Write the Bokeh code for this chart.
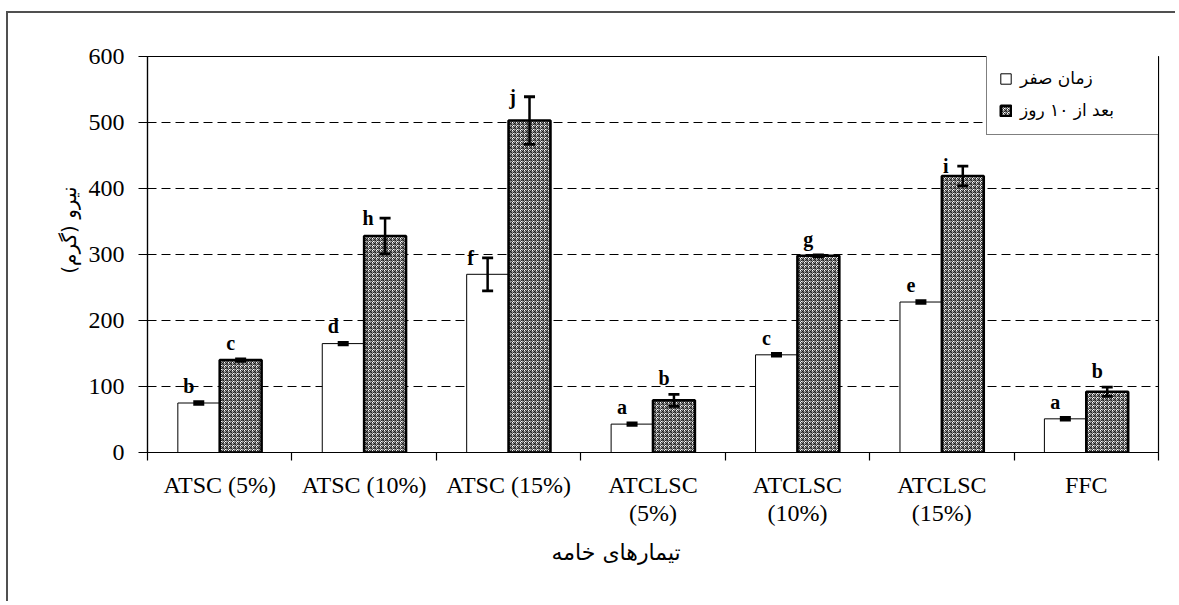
from bokeh.plotting import figure
from bokeh.models import (ColumnDataSource, FixedTicker, Whisker, TeeHead, LabelSet, Title,
                          Legend, LegendItem, Range1d)
from bokeh.embed import file_html
from bokeh.resources import INLINE

# ---------------- data ----------------
categories = ["ATSC (5%)", "ATSC (10%)", "ATSC (15%)", "ATCLSC\n(5%)", "ATCLSC\n(10%)",
              "ATCLSC\n(15%)", "FFC"]
day0 = [75, 165, 270, 43, 148, 228, 51]
day0_err = [2, 2, 25, 2, 2, 2, 2]
day0_letters = ["b", "d", "f", "a", "c", "e", "a"]
day10 = [140, 328, 503, 79, 298, 419, 92]
day10_err = [2, 27, 36, 9, 1.5, 15, 7]
day10_letters = ["c", "h", "j", "b", "g", "i", "b"]
series_names = ["زمان صفر", "بعد از ۱۰ روز"]
y_ticks = [0, 100, 200, 300, 400, 500, 600]
y_title = "نیرو (گرم)"
x_title = "تیمارهای خامه"

# ---------------- layout ----------------
n = len(categories)
bw = 0.29
SERIF = "Liberation Serif"
ARABIC = "DejaVu Sans"

p = figure(width=1169, height=590, x_range=Range1d(0, n), y_range=Range1d(0, 600),
           output_backend="svg", toolbar_location=None,
           min_border_left=139, min_border_right=19, min_border_top=43, min_border_bottom=151)
p.styles = {"border-top": "2px solid #505050", "border-left": "2px solid #505050",
            "margin-top": "11px", "margin-left": "6px"}
p.background_fill_color = "white"
p.border_fill_color = "white"
p.outline_line_color = "black"
p.outline_line_width = 1.2

centers = [i + 0.5 for i in range(n)]
x0 = [c - bw / 2 for c in centers]
x1 = [c + bw / 2 for c in centers]


def letter_offsets(errs):
    xo = [-17 if e >= 10 else -10 for e in errs]
    yo = [0 if e >= 10 else 16 for e in errs]
    return xo, yo


xo0, yo0 = letter_offsets(day0_err)
xo1, yo1 = letter_offsets(day10_err)
src0 = ColumnDataSource(dict(x=x0, top=day0, upper=[v + e for v, e in zip(day0, day0_err)],
                             lower=[v - e for v, e in zip(day0, day0_err)], text=day0_letters,
                             xo=xo0, yo=yo0))
src1 = ColumnDataSource(dict(x=x1, top=day10, upper=[v + e for v, e in zip(day10, day10_err)],
                             lower=[v - e for v, e in zip(day10, day10_err)], text=day10_letters,
                             xo=xo1, yo=yo1))

r0 = p.vbar(x="x", top="top", width=bw, source=src0, fill_color="white",
            line_color="black", line_width=1)
r1 = p.vbar(x="x", top="top", width=bw, source=src1, fill_color="white",
            line_color="black", line_width=2.6, hatch_pattern="criss_cross",
            hatch_color="#1a1a1a", hatch_scale=4, hatch_weight=0.9)

for src in (src0, src1):
    w = Whisker(source=src, base="x", upper="upper", lower="lower", line_width=2.5,
                line_color="black", level="annotation",
                upper_head=TeeHead(size=11, line_width=2.8, line_color="black"),
                lower_head=TeeHead(size=11, line_width=2.8, line_color="black"))
    p.add_layout(w)
    ls = LabelSet(source=src, x="x", y="upper", text="text", x_offset="xo", y_offset="yo",
                  text_align="center", text_baseline="middle", text_font=SERIF,
                  text_font_style="bold", text_font_size="20px", text_color="black",
                  level="annotation")
    p.add_layout(ls)

# grid
p.xgrid.visible = False
p.ygrid.ticker = FixedTicker(ticks=y_ticks[1:-1])
p.ygrid.grid_line_color = "black"
p.ygrid.grid_line_dash = "9 5"
p.ygrid.grid_line_width = 1.2

# y axis
p.yaxis.ticker = FixedTicker(ticks=y_ticks)
p.yaxis.major_tick_out = 9
p.yaxis.major_tick_in = 0
p.yaxis.minor_tick_out = 0
p.yaxis.minor_tick_in = 0
p.yaxis.axis_line_color = "black"
p.yaxis.axis_line_width = 1.2
p.yaxis.major_tick_line_color = "black"
p.yaxis.major_tick_line_width = 1.2
p.yaxis.major_label_standoff = 14
p.yaxis.major_label_text_font = SERIF
p.yaxis.major_label_text_font_size = "24px"
p.yaxis.major_label_text_color = "black"

# x axis: labels at centres, tick marks at category boundaries
p.xaxis.ticker = FixedTicker(ticks=centers, minor_ticks=list(range(n + 1)))
p.xaxis.major_label_overrides = {c: lab for c, lab in zip(centers, categories)}
p.xaxis.major_tick_out = 0
p.xaxis.major_tick_in = 0
p.xaxis.minor_tick_out = 8
p.xaxis.minor_tick_in = 0
p.xaxis.minor_tick_line_color = "black"
p.xaxis.minor_tick_line_width = 1.2
p.xaxis.axis_line_color = "black"
p.xaxis.axis_line_width = 1.2
p.xaxis.major_label_standoff = 11
p.xaxis.major_label_text_font = SERIF
p.xaxis.major_label_text_font_size = "24px"
p.xaxis.major_label_text_color = "black"
p.xaxis.major_label_text_line_height = 1.1

# axis titles
p.add_layout(Title(text=x_title, align="left", offset=404, standoff=16,
                   text_font=ARABIC, text_font_size="22px", text_font_style="normal",
                   text_color="black"), "below")
p.add_layout(Title(text=y_title, align="right", offset=130, standoff=10,
                   text_font=ARABIC, text_font_size="20px", text_font_style="normal",
                   text_color="black"), "left")

# legend
legend = Legend(items=[LegendItem(label=series_names[0], renderers=[r0]),
                       LegendItem(label=series_names[1], renderers=[r1])],
                location=(839, 317), orientation="vertical",
                border_line_color="black", border_line_width=1.2,
                background_fill_color="white", background_fill_alpha=1,
                label_text_font=ARABIC, label_text_font_size="17px",
                label_text_color="black", glyph_width=13, glyph_height=13,
                label_standoff=8, spacing=8, padding=12, margin=0,
                label_height=24, label_width=127)
p.add_layout(legend)

open("out.html", "w").write(file_html(p, INLINE))
